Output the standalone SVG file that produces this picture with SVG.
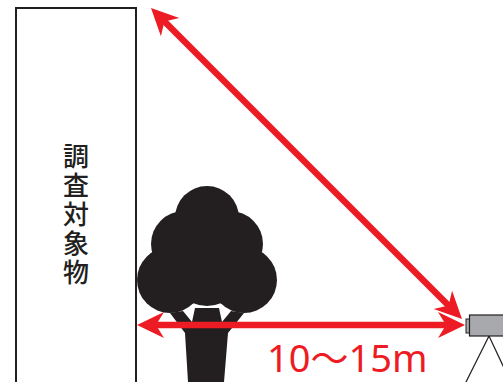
<svg xmlns="http://www.w3.org/2000/svg" width="503" height="382" viewBox="0 0 503 382">
  <style>
    .outline { fill: #ffffff; stroke: #231f20; stroke-width: 2; }
    .silhouette { fill: #231f20; }
    .measure { stroke: #ed1c24; stroke-width: 6.5; fill: none; }
    .head { fill: #ed1c24; }
    .label { font-family: "Noto Sans CJK JP", "Noto Sans", sans-serif; fill: #231f20; font-size: 26px; font-weight: 500; writing-mode: vertical-rl; letter-spacing: 3px; }
    .dist { font-family: "Noto Sans", "Noto Sans CJK JP", sans-serif; fill: #ed1c24; font-size: 38px; }
  </style>
  <defs>
    <!-- notched arrowhead, tip at origin pointing along -x -->
    <path id="arrowhead" d="M0,0 L27,-13 L19,0 L27,13 Z"/>
  </defs>
  <rect width="503" height="382" fill="#ffffff"/>

  <!-- building under survey -->
  <g id="building">
    <rect class="outline" x="16" y="8" width="120" height="380"/>
    <text class="label" x="76" y="143">調査対象物</text>
  </g>

  <!-- tree silhouette -->
  <g id="tree" class="silhouette">
    <circle cx="207" cy="218" r="32"/>
    <circle cx="184" cy="244" r="33"/>
    <circle cx="230" cy="244" r="33"/>
    <circle cx="170" cy="280" r="33"/>
    <circle cx="244" cy="280" r="33"/>
    <circle cx="207" cy="268" r="38"/>
    <path d="M188,382 L185,333 L170,313 L183,311 L192,322 L195,308 L219,308 L222,322 L231,311 L244,313 L228,333 L224,382 Z"/>
  </g>

  <!-- surveying instrument on tripod -->
  <g id="instrument">
    <line x1="489" y1="336" x2="465" y2="384" stroke="#231f20" stroke-width="1.2"/>
    <line x1="489" y1="336" x2="505" y2="370" stroke="#231f20" stroke-width="1.2"/>
    <rect x="466" y="319" width="4" height="14" fill="#a7a9ac" stroke="#231f20" stroke-width="1"/>
    <rect x="469.5" y="315" width="36" height="21" fill="#a7a9ac" stroke="#231f20" stroke-width="1.2"/>
  </g>

  <!-- measurement connectors -->
  <g id="connectors">
    <line class="measure" x1="152" y1="325" x2="450" y2="325"/>
    <use href="#arrowhead" class="head" transform="translate(137,325)"/>
    <use href="#arrowhead" class="head" transform="translate(465,325) rotate(180)"/>
    <line class="measure" x1="162" y1="19" x2="451" y2="308"/>
    <use href="#arrowhead" class="head" transform="translate(151,8) rotate(45)"/>
    <use href="#arrowhead" class="head" transform="translate(462,319) rotate(225)"/>
  </g>

  <text id="distance" class="dist" x="267" y="372">10～15m</text>
</svg>
